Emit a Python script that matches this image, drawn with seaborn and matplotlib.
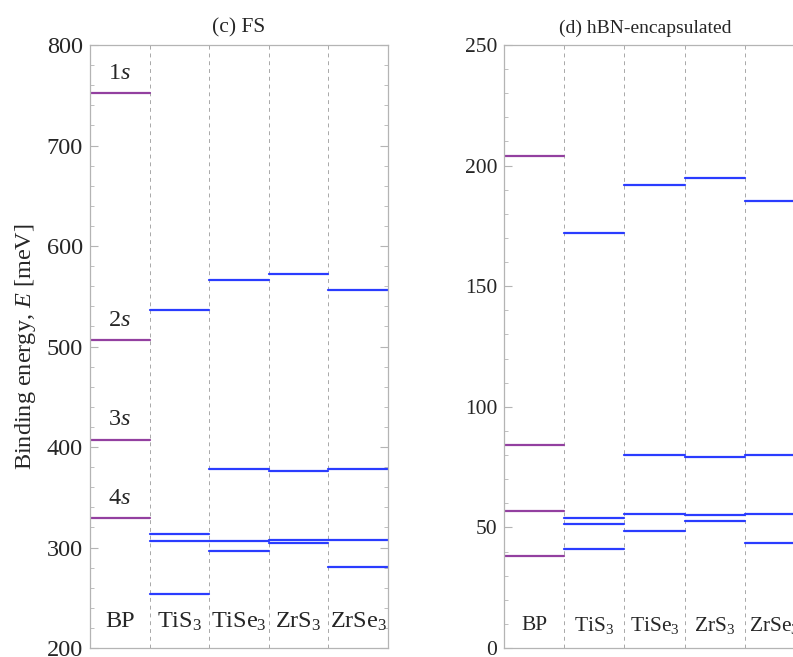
import pandas as pd
import matplotlib
matplotlib.use('Agg')
import matplotlib.pyplot as plt
from matplotlib.ticker import MultipleLocator
import seaborn as sns

# Exciton binding energies (meV), levels 1s..4s
materials = ['BP', 'TiS$_3$', 'TiSe$_3$', 'ZrS$_3$', 'ZrSe$_3$']
levels = ['1$s$', '2$s$', '3$s$', '4$s$']

fs_bp = [752, 506, 407, 329]
fs_tis3 = [536, 313, 306, 254]
fs_tise3 = [566, 378, 306, 297]
fs_zrs3 = [572, 376, 307, 304]
fs_zrse3 = [556, 378, 307, 281]

hbn_bp = [204, 84, 57, 38]
hbn_tis3 = [172, 54, 51.5, 41]
hbn_tise3 = [192, 80, 55.5, 48.5]
hbn_zrs3 = [195, 79, 55, 52.5]
hbn_zrse3 = [185.5, 80, 55.5, 43.5]


def build_frame(columns):
    rows = []
    for i, (mat, vals) in enumerate(zip(materials, columns)):
        group = 'BP' if i == 0 else 'TMTC'
        for j, v in enumerate(vals):
            uid = f'{i}-{j}'
            rows.append({'x': i, 'E': v, 'unit': uid, 'group': group})
            rows.append({'x': i + 1, 'E': v, 'unit': uid, 'group': group})
    return pd.DataFrame(rows)


df_fs = build_frame([fs_bp, fs_tis3, fs_tise3, fs_zrs3, fs_zrse3])
df_hbn = build_frame([hbn_bp, hbn_tis3, hbn_tise3, hbn_zrs3, hbn_zrse3])

sns.set_style('ticks')
plt.rcParams['font.family'] = ['Liberation Serif', 'DejaVu Serif']
plt.rcParams['mathtext.fontset'] = 'custom'
plt.rcParams['mathtext.rm'] = 'Liberation Serif'
plt.rcParams['mathtext.it'] = 'Liberation Serif:italic'

palette = {'BP': '#9340a0', 'TMTC': '#2a3cff'}
spine_c = '#b4b4b4'

fig = plt.figure(figsize=(7.93, 6.57), dpi=100)
ax1 = fig.add_axes([0.1135, 0.0137, 0.3758, 0.9178])
ax2 = fig.add_axes([0.6356, 0.0137, 0.3796, 0.9178])


def style_axis(ax, df, ylim, major, minor, fsize, tsize, title, label_y):
    sns.lineplot(data=df, x='x', y='E', hue='group', units='unit', estimator=None,
                 palette=palette, linewidth=1.6, legend=False, ax=ax)
    for b in range(1, len(materials)):
        ax.axvline(b, color='#a8a8a8', linestyle=(0, (4, 4)), linewidth=0.7, zorder=0)
    ax.set_xlim(0, len(materials))
    ax.set_ylim(*ylim)
    ax.set_xticks([])
    ax.set_xlabel('')
    ax.set_ylabel('')
    ax.yaxis.set_major_locator(MultipleLocator(major))
    ax.yaxis.set_minor_locator(MultipleLocator(minor))
    ax.tick_params(axis='y', which='both', direction='in', left=True, right=True,
                   color=spine_c, labelsize=fsize, pad=5)
    ax.tick_params(axis='y', which='major', length=6)
    ax.tick_params(axis='y', which='minor', length=3)
    for s in ax.spines.values():
        s.set_color(spine_c)
        s.set_linewidth(0.9)
    ax.set_title(title, fontsize=tsize, pad=9)
    for i, m in enumerate(materials):
        ax.text(i + 0.5, label_y, m, ha='center', va='center', fontsize=fsize)


style_axis(ax1, df_fs, (200, 800), 100, 20, 17.5, 15.5, '(c) FS', 226)
style_axis(ax2, df_hbn, (0, 250), 50, 10, 15.5, 14, '(d) hBN-encapsulated', 9.5)
ax2.title.set_x(0.47)

for lev, v in zip(levels, fs_bp):
    ax1.text(0.5, v + 20, lev, ha='center', va='center', fontsize=17.5)

ax1.set_ylabel('Binding energy, $E$ [meV]', fontsize=17.5, labelpad=6)

fig.savefig('out.png', dpi=100)
